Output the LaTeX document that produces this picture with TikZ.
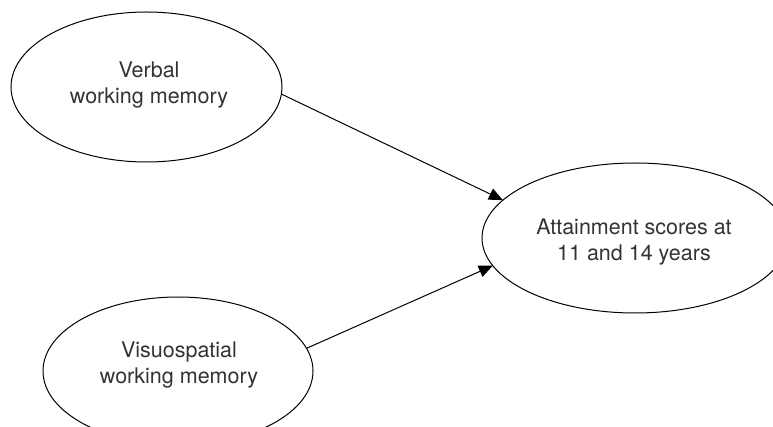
\documentclass[tikz,border=0pt]{standalone}
\usepackage{fontspec}
\setmainfont{TeX Gyre Heros}
\usetikzlibrary{shapes.geometric,arrows.meta}
\begin{document}
\begin{tikzpicture}[x=1pt,y=-1pt,
  bubble/.style={draw, line width=1pt, ellipse, inner sep=0pt, outer sep=0pt},
  caption/.style={align=center, font=\fontsize{21.5}{26}\selectfont, text=black!80, inner sep=0pt},
  link/.style={line width=1pt, -{Triangle[length=14pt,width=12pt]}}]
% canvas: the lower and right ellipses run past the edge
\clip (0,0) rectangle (773,427);

% ellipses
\node[bubble, minimum width=271pt, minimum height=150pt] (verbal) at (146.5,87) {};
\node[bubble, minimum width=270pt, minimum height=148pt] (visuo) at (178,371) {};
\node[bubble, minimum width=306pt, minimum height=150pt] (attain) at (635,238) {};

% labels
\node[caption] (verbal-t) at (149,85.5) {Verbal\\working memory};
\node[caption] (visuo-t) at (179,365.5) {Visuospatial\\working memory};
\node[caption] (attain-t) at (634,242) {Attainment scores at\\11 and 14 years};

% paths
\draw[link] (verbal.-3.5) -- (attain.164.7);
\draw[link] (visuo.10) -- (attain.191);
\end{tikzpicture}
\end{document}
